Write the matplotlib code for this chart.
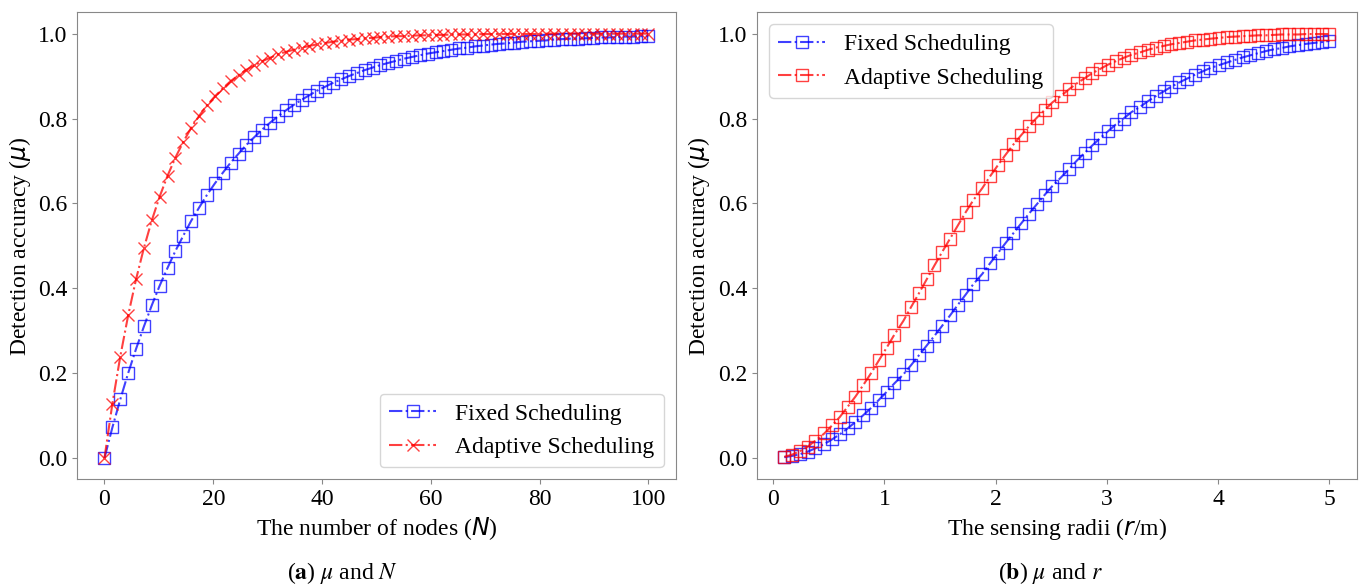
import matplotlib
matplotlib.use("Agg")
import matplotlib.pyplot as plt

plt.rcParams['font.family'] = ['Liberation Serif', 'DejaVu Sans']
plt.rcParams['mathtext.fontset'] = 'dejavusans'

# ---------------- data (a): accuracy vs number of nodes ----------------
nodes = [0, 1.45, 2.90, 4.35, 5.80, 7.25, 8.70, 10.14, 11.59, 13.04, 14.49, 15.94,
         17.39, 18.84, 20.29, 21.74, 23.19, 24.64, 26.09, 27.54, 28.99, 30.43, 31.88,
         33.33, 34.78, 36.23, 37.68, 39.13, 40.58, 42.03, 43.48, 44.93, 46.38, 47.83,
         49.28, 50.72, 52.17, 53.62, 55.07, 56.52, 57.97, 59.42, 60.87, 62.32, 63.77,
         65.22, 66.67, 68.12, 69.57, 71.01, 72.46, 73.91, 75.36, 76.81, 78.26, 79.71,
         81.16, 82.61, 84.06, 85.51, 86.96, 88.41, 89.86, 91.30, 92.75, 94.20, 95.65,
         97.10, 98.55, 100.0]
fixed_nodes = [0.000, 0.072, 0.138, 0.200, 0.257, 0.310, 0.360, 0.406, 0.448, 0.488,
               0.524, 0.559, 0.590, 0.620, 0.647, 0.672, 0.696, 0.717, 0.738, 0.756,
               0.774, 0.790, 0.805, 0.819, 0.832, 0.844, 0.855, 0.866, 0.875, 0.884,
               0.892, 0.900, 0.907, 0.914, 0.920, 0.926, 0.931, 0.936, 0.941, 0.945,
               0.949, 0.953, 0.956, 0.959, 0.962, 0.965, 0.967, 0.970, 0.972, 0.974,
               0.976, 0.977, 0.979, 0.981, 0.982, 0.983, 0.984, 0.986, 0.987, 0.988,
               0.988, 0.989, 0.990, 0.991, 0.991, 0.992, 0.993, 0.993, 0.994, 0.994]
adaptive_nodes = [0.000, 0.128, 0.239, 0.336, 0.421, 0.495, 0.560, 0.616, 0.665, 0.708,
                  0.745, 0.778, 0.806, 0.831, 0.852, 0.871, 0.888, 0.902, 0.915, 0.925,
                  0.935, 0.943, 0.951, 0.957, 0.962, 0.967, 0.971, 0.975, 0.978, 0.981,
                  0.983, 0.986, 0.987, 0.989, 0.990, 0.992, 0.993, 0.994, 0.994, 0.995,
                  0.996, 0.996, 0.997, 0.997, 0.998, 0.998, 0.998, 0.998, 0.999, 0.999,
                  0.999, 0.999, 0.999, 0.999, 0.999, 0.999, 1.000, 1.000, 1.000, 1.000,
                  1.000, 1.000, 1.000, 1.000, 1.000, 1.000, 1.000, 1.000, 1.000, 1.000]

# ---------------- data (b): accuracy vs sensing radius ----------------
radii = [0.10, 0.17, 0.24, 0.31, 0.38, 0.46, 0.53, 0.60, 0.67, 0.74, 0.81, 0.88, 0.95,
         1.02, 1.09, 1.17, 1.24, 1.31, 1.38, 1.45, 1.52, 1.59, 1.66, 1.73, 1.80, 1.88,
         1.95, 2.02, 2.09, 2.16, 2.23, 2.30, 2.37, 2.44, 2.51, 2.59, 2.66, 2.73, 2.80,
         2.87, 2.94, 3.01, 3.08, 3.15, 3.22, 3.30, 3.37, 3.44, 3.51, 3.58, 3.65, 3.72,
         3.79, 3.86, 3.93, 4.01, 4.08, 4.15, 4.22, 4.29, 4.36, 4.43, 4.50, 4.57, 4.64,
         4.72, 4.79, 4.86, 4.93, 5.00]
fixed_radii = [0.002, 0.005, 0.009, 0.015, 0.023, 0.033, 0.044, 0.056, 0.070, 0.085,
               0.101, 0.118, 0.137, 0.156, 0.176, 0.197, 0.219, 0.242, 0.265, 0.288,
               0.312, 0.336, 0.361, 0.385, 0.410, 0.434, 0.459, 0.483, 0.507, 0.530,
               0.553, 0.576, 0.598, 0.620, 0.641, 0.662, 0.681, 0.701, 0.719, 0.737,
               0.754, 0.770, 0.786, 0.800, 0.815, 0.828, 0.841, 0.853, 0.864, 0.875,
               0.885, 0.894, 0.903, 0.911, 0.919, 0.926, 0.932, 0.938, 0.944, 0.949,
               0.954, 0.959, 0.963, 0.966, 0.970, 0.973, 0.976, 0.978, 0.980, 0.983]
adaptive_radii = [0.003, 0.008, 0.016, 0.027, 0.041, 0.058, 0.077, 0.097, 0.121, 0.145,
                  0.172, 0.200, 0.230, 0.260, 0.291, 0.323, 0.356, 0.388, 0.421, 0.454,
                  0.486, 0.517, 0.548, 0.579, 0.608, 0.636, 0.664, 0.690, 0.715, 0.739,
                  0.761, 0.782, 0.802, 0.820, 0.838, 0.854, 0.869, 0.883, 0.895, 0.907,
                  0.917, 0.927, 0.935, 0.943, 0.950, 0.956, 0.962, 0.967, 0.971, 0.975,
                  0.978, 0.981, 0.984, 0.986, 0.988, 0.990, 0.992, 0.993, 0.994, 0.995,
                  0.996, 0.996, 0.997, 0.998, 0.998, 0.998, 0.999, 0.999, 0.999, 0.999]

labels = ["Fixed Scheduling", "Adaptive Scheduling"]
y_ticks = [0.0, 0.2, 0.4, 0.6, 0.8, 1.0]

fig = plt.figure(figsize=(13.63, 5.88), dpi=100)
ax1 = fig.add_axes([0.0567, 0.1849, 0.4390, 0.7940])
ax2 = fig.add_axes([0.5554, 0.1849, 0.4400, 0.7940])

FS = 17
spine_col = '#888888'

ax1.plot(nodes, fixed_nodes, linestyle='-.', color='blue', marker='s', markersize=8,
         markerfacecolor='none', markeredgewidth=1.0, linewidth=1.5, alpha=0.75,
         label=labels[0])
ax1.plot(nodes, adaptive_nodes, linestyle='-.', color='red', marker='x', markersize=8,
         markeredgewidth=1.0, linewidth=1.5, alpha=0.75, label=labels[1])

ax2.plot(radii, fixed_radii, linestyle='-.', color='blue', marker='s', markersize=8,
         markerfacecolor='none', markeredgewidth=1.0, linewidth=1.5, alpha=0.75,
         label=labels[0])
ax2.plot(radii, adaptive_radii, linestyle='-.', color='red', marker='s', markersize=8,
         markerfacecolor='none', markeredgewidth=1.0, linewidth=1.5, alpha=0.75,
         label=labels[1])

ax1.set_xticks([0, 20, 40, 60, 80, 100])
ax2.set_xticks([0, 1, 2, 3, 4, 5])

for ax in (ax1, ax2):
    ax.set_yticks(y_ticks)
    ax.set_ylim(-0.05, 1.05)
    ax.tick_params(labelsize=FS, color=spine_col)
    for s in ax.spines.values():
        s.set_color(spine_col)
    ax.set_ylabel(r"Detection accuracy ($\mu$)", fontsize=FS)

ax1.set_xlim(-5, 105)
ax2.set_xlim(-0.145, 5.245)
ax1.set_xlabel(r"The number of nodes ($N$)", fontsize=FS)
ax2.set_xlabel(r"The sensing radii ($r$/m)", fontsize=FS)

ax1.legend(loc='lower right', fontsize=FS, borderpad=0.4)
ax2.legend(loc='upper left', fontsize=FS, borderpad=0.4)

fig.text(0.251, 0.0255, r"($\mathbf{a}$) $\mu$ and $N$", ha='center', va='center',
         fontsize=FS, math_fontfamily='stix')
fig.text(0.771, 0.0255, r"($\mathbf{b}$) $\mu$ and $r$", ha='center', va='center',
         fontsize=FS, math_fontfamily='stix')

fig.savefig("out.png", dpi=100)
